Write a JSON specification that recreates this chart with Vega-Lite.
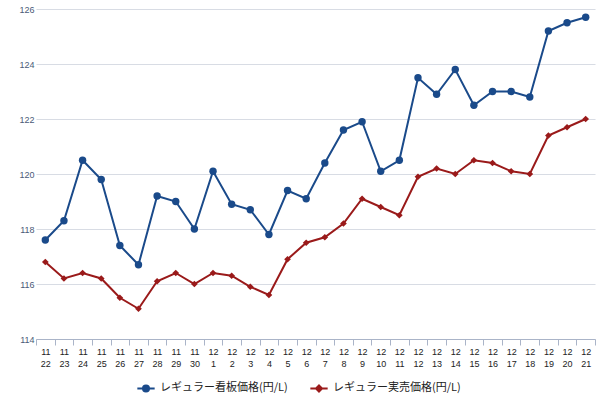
{
  "$schema": "https://vega.github.io/schema/vega-lite/v6.json",
  "autosize": "none",
  "width": 559,
  "height": 330,
  "padding": {"left": 36, "top": 9, "right": 5, "bottom": 61},
  "background": "white",
  "config": {
    "font": "Liberation Sans",
    "view": {"stroke": null}
  },
  "data": {
    "values": [
      {"date": "11/22", "series": "レギュラー看板価格(円/L)", "price": 117.6},
      {"date": "11/23", "series": "レギュラー看板価格(円/L)", "price": 118.3},
      {"date": "11/24", "series": "レギュラー看板価格(円/L)", "price": 120.5},
      {"date": "11/25", "series": "レギュラー看板価格(円/L)", "price": 119.8},
      {"date": "11/26", "series": "レギュラー看板価格(円/L)", "price": 117.4},
      {"date": "11/27", "series": "レギュラー看板価格(円/L)", "price": 116.7},
      {"date": "11/28", "series": "レギュラー看板価格(円/L)", "price": 119.2},
      {"date": "11/29", "series": "レギュラー看板価格(円/L)", "price": 119.0},
      {"date": "11/30", "series": "レギュラー看板価格(円/L)", "price": 118.0},
      {"date": "12/1", "series": "レギュラー看板価格(円/L)", "price": 120.1},
      {"date": "12/2", "series": "レギュラー看板価格(円/L)", "price": 118.9},
      {"date": "12/3", "series": "レギュラー看板価格(円/L)", "price": 118.7},
      {"date": "12/4", "series": "レギュラー看板価格(円/L)", "price": 117.8},
      {"date": "12/5", "series": "レギュラー看板価格(円/L)", "price": 119.4},
      {"date": "12/6", "series": "レギュラー看板価格(円/L)", "price": 119.1},
      {"date": "12/7", "series": "レギュラー看板価格(円/L)", "price": 120.4},
      {"date": "12/8", "series": "レギュラー看板価格(円/L)", "price": 121.6},
      {"date": "12/9", "series": "レギュラー看板価格(円/L)", "price": 121.9},
      {"date": "12/10", "series": "レギュラー看板価格(円/L)", "price": 120.1},
      {"date": "12/11", "series": "レギュラー看板価格(円/L)", "price": 120.5},
      {"date": "12/12", "series": "レギュラー看板価格(円/L)", "price": 123.5},
      {"date": "12/13", "series": "レギュラー看板価格(円/L)", "price": 122.9},
      {"date": "12/14", "series": "レギュラー看板価格(円/L)", "price": 123.8},
      {"date": "12/15", "series": "レギュラー看板価格(円/L)", "price": 122.5},
      {"date": "12/16", "series": "レギュラー看板価格(円/L)", "price": 123.0},
      {"date": "12/17", "series": "レギュラー看板価格(円/L)", "price": 123.0},
      {"date": "12/18", "series": "レギュラー看板価格(円/L)", "price": 122.8},
      {"date": "12/19", "series": "レギュラー看板価格(円/L)", "price": 125.2},
      {"date": "12/20", "series": "レギュラー看板価格(円/L)", "price": 125.5},
      {"date": "12/21", "series": "レギュラー看板価格(円/L)", "price": 125.7},
      {"date": "11/22", "series": "レギュラー実売価格(円/L)", "price": 116.8},
      {"date": "11/23", "series": "レギュラー実売価格(円/L)", "price": 116.2},
      {"date": "11/24", "series": "レギュラー実売価格(円/L)", "price": 116.4},
      {"date": "11/25", "series": "レギュラー実売価格(円/L)", "price": 116.2},
      {"date": "11/26", "series": "レギュラー実売価格(円/L)", "price": 115.5},
      {"date": "11/27", "series": "レギュラー実売価格(円/L)", "price": 115.1},
      {"date": "11/28", "series": "レギュラー実売価格(円/L)", "price": 116.1},
      {"date": "11/29", "series": "レギュラー実売価格(円/L)", "price": 116.4},
      {"date": "11/30", "series": "レギュラー実売価格(円/L)", "price": 116.0},
      {"date": "12/1", "series": "レギュラー実売価格(円/L)", "price": 116.4},
      {"date": "12/2", "series": "レギュラー実売価格(円/L)", "price": 116.3},
      {"date": "12/3", "series": "レギュラー実売価格(円/L)", "price": 115.9},
      {"date": "12/4", "series": "レギュラー実売価格(円/L)", "price": 115.6},
      {"date": "12/5", "series": "レギュラー実売価格(円/L)", "price": 116.9},
      {"date": "12/6", "series": "レギュラー実売価格(円/L)", "price": 117.5},
      {"date": "12/7", "series": "レギュラー実売価格(円/L)", "price": 117.7},
      {"date": "12/8", "series": "レギュラー実売価格(円/L)", "price": 118.2},
      {"date": "12/9", "series": "レギュラー実売価格(円/L)", "price": 119.1},
      {"date": "12/10", "series": "レギュラー実売価格(円/L)", "price": 118.8},
      {"date": "12/11", "series": "レギュラー実売価格(円/L)", "price": 118.5},
      {"date": "12/12", "series": "レギュラー実売価格(円/L)", "price": 119.9},
      {"date": "12/13", "series": "レギュラー実売価格(円/L)", "price": 120.2},
      {"date": "12/14", "series": "レギュラー実売価格(円/L)", "price": 120.0},
      {"date": "12/15", "series": "レギュラー実売価格(円/L)", "price": 120.5},
      {"date": "12/16", "series": "レギュラー実売価格(円/L)", "price": 120.4},
      {"date": "12/17", "series": "レギュラー実売価格(円/L)", "price": 120.1},
      {"date": "12/18", "series": "レギュラー実売価格(円/L)", "price": 120.0},
      {"date": "12/19", "series": "レギュラー実売価格(円/L)", "price": 121.4},
      {"date": "12/20", "series": "レギュラー実売価格(円/L)", "price": 121.7},
      {"date": "12/21", "series": "レギュラー実売価格(円/L)", "price": 122.0}
    ]
  },
  "encoding": {
    "x": {
      "field": "date",
      "type": "ordinal",
      "sort": null,
      "scale": {"paddingInner": 0, "paddingOuter": 0},
      "axis": {
        "title": null,
        "labelAngle": 0,
        "labelExpr": "datum.value ? split(datum.value, '/') : ''",
        "labelFontSize": 9,
        "labelColor": "#222222",
        "labelLineHeight": 12,
        "labelPadding": 2,
        "domainColor": "#aab4c8",
        "tickColor": "#aab4c8",
        "tickBand": "extent",
        "tickSize": 6,
        "grid": false
      }
    },
    "y": {
      "field": "price",
      "type": "quantitative",
      "scale": {"domain": [114, 126], "nice": false, "zero": false},
      "axis": {
        "title": null,
        "values": [114, 116, 118, 120, 122, 124, 126],
        "labelFontSize": 9,
        "labelColor": "#4a5a78",
        "labelPadding": 2,
        "domain": false,
        "ticks": false,
        "gridColor": "#d8dce4",
        "gridWidth": 1.2
      }
    },
    "color": {
      "field": "series",
      "type": "nominal",
      "scale": {
        "domain": ["レギュラー看板価格(円/L)", "レギュラー実売価格(円/L)"],
        "range": ["#1a4a8a", "#9a1a1a"]
      },
      "legend": {
        "title": null,
        "orient": "none",
        "legendX": 100,
        "legendY": 369,
        "direction": "horizontal",
        "labelFontSize": 11,
        "labelFont": "Noto Sans CJK JP",
        "labelColor": "#222222",
        "symbolSize": 300,
        "symbolStrokeWidth": 2,
        "columnPadding": 18,
        "symbolType": "M-1,0H1",
        "encode": {
          "symbols": {
            "update": {
              "shape": {"signal": "datum.index == 0 ? 'M-1,0H1M-0.35,0A0.35,0.35,0,1,0,0.35,0A0.35,0.35,0,1,0,-0.35,0Z' : 'M-1,0H1M0,-0.35L0.35,0L0,0.35L-0.35,0Z'"},
              "fillOpacity": {"value": 1}
            }
          }
        }
      }
    }
  },
  "layer": [
    {
      "mark": {"type": "line", "strokeWidth": 2}
    },
    {
      "mark": {"type": "point", "filled": true, "opacity": 1},
      "encoding": {
        "shape": {
          "condition": {"test": "datum.series == 'レギュラー看板価格(円/L)'", "value": "circle"},
          "value": "diamond"
        },
        "size": {
          "condition": {"test": "datum.series == 'レギュラー看板価格(円/L)'", "value": 55},
          "value": 45
        }
      }
    }
  ]
}
